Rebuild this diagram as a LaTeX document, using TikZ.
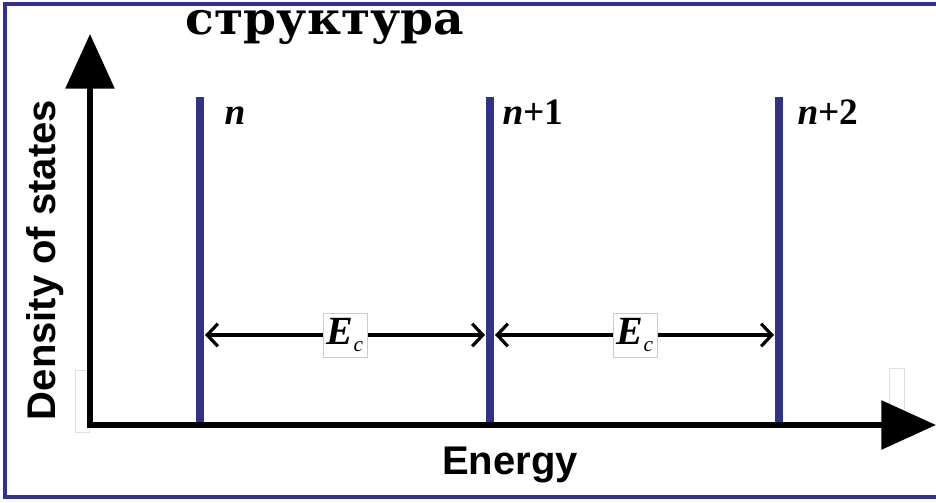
\documentclass[tikz,border=0pt]{standalone}
\usepackage{fontspec}
\setmainfont{Liberation Serif}
\newfontfamily\titlefont{DejaVu Serif}
\newfontfamily\axisfont{Liberation Sans}
\usetikzlibrary{arrows.meta}

\definecolor{frameblue}{RGB}{48,48,150}
\definecolor{levelblue}{RGB}{50,50,135}

\tikzset{
  axisline/.style={line width=4.5pt, -{Triangle[length=41pt, width=36pt]}},
  levelline/.style={line width=6pt, levelblue},
  gapline/.style={line width=2.4pt, {Straight Barb[length=8pt, width=17pt]}-{Straight Barb[length=8pt, width=17pt]}},
  gaplabel/.style={draw=gray!40, fill=white, thin, minimum size=33pt, inner sep=0pt,
                   font=\fontsize{30}{32}\selectfont},
  levellabel/.style={anchor=base west, font=\fontsize{28}{30}\selectfont\bfseries},
  axislabel/.style={font=\axisfont\fontsize{30}{32}\selectfont\bfseries}
}

\begin{document}
\begin{tikzpicture}[x=0.75pt, y=-0.75pt]

  \useasboundingbox (0,0) rectangle (936,503);

  % -- Frame --
  \draw[frameblue, line width=3pt] (940,4) -- (5,4) -- (5,497) -- (940,497);

  % -- Title --
  \node[anchor=base, xscale=1.04, font=\titlefont\fontsize{34}{36}\selectfont\bfseries] (title) at (325,35) {структура};

  % -- Faint marks by the axes --
  \draw[gray!25, thin] (75,370) rectangle (89,432);
  \draw[gray!25, thin] (889,368) rectangle (904,432);

  % -- Axes --
  \coordinate (origin) at (90,425);
  \coordinate (ytip) at (90,34);
  \coordinate (xtip) at (936,425);
  \draw[axisline, line cap=rect] (origin) -- (ytip);
  \draw[axisline, line cap=rect] (origin) -- (xtip);
  \node[axislabel, rotate=90] (dos) at (45,260) {Density of states};
  \node[axislabel] (energy) at (510,465) {Energy};

  % -- Levels --
  \coordinate (n0top) at (200,97);   \coordinate (n0bot) at (200,422);
  \coordinate (n1top) at (490,97);   \coordinate (n1bot) at (490,422);
  \coordinate (n2top) at (779,97);   \coordinate (n2bot) at (779,422);
  \draw[levelline] (n0top) -- (n0bot);
  \draw[levelline] (n1top) -- (n1bot);
  \draw[levelline] (n2top) -- (n2bot);
  \node[levellabel] (lab0) at (220,124) {\textit{n}};
  \node[levellabel] (lab1) at (498,124) {\textit{n}+1};
  \node[levellabel] (lab2) at (793,124) {\textit{n}+2};

  % -- Charging energy gaps --
  \coordinate (g0) at (205,335);
  \coordinate (g1l) at (485,335);
  \coordinate (g1r) at (495,335);
  \coordinate (g2) at (774,335);
  \draw[gapline] (g0) -- (g1l);
  \draw[gapline] (g1r) -- (g2);
  \node[gaplabel] (ec1) at (345,335) {\textbf{\textit{E}}\raisebox{-0.35ex}{\fontsize{16}{16}\selectfont\textit{c}}};
  \node[gaplabel] (ec2) at (635,335) {\textbf{\textit{E}}\raisebox{-0.35ex}{\fontsize{16}{16}\selectfont\textit{c}}};

\end{tikzpicture}
\end{document}
